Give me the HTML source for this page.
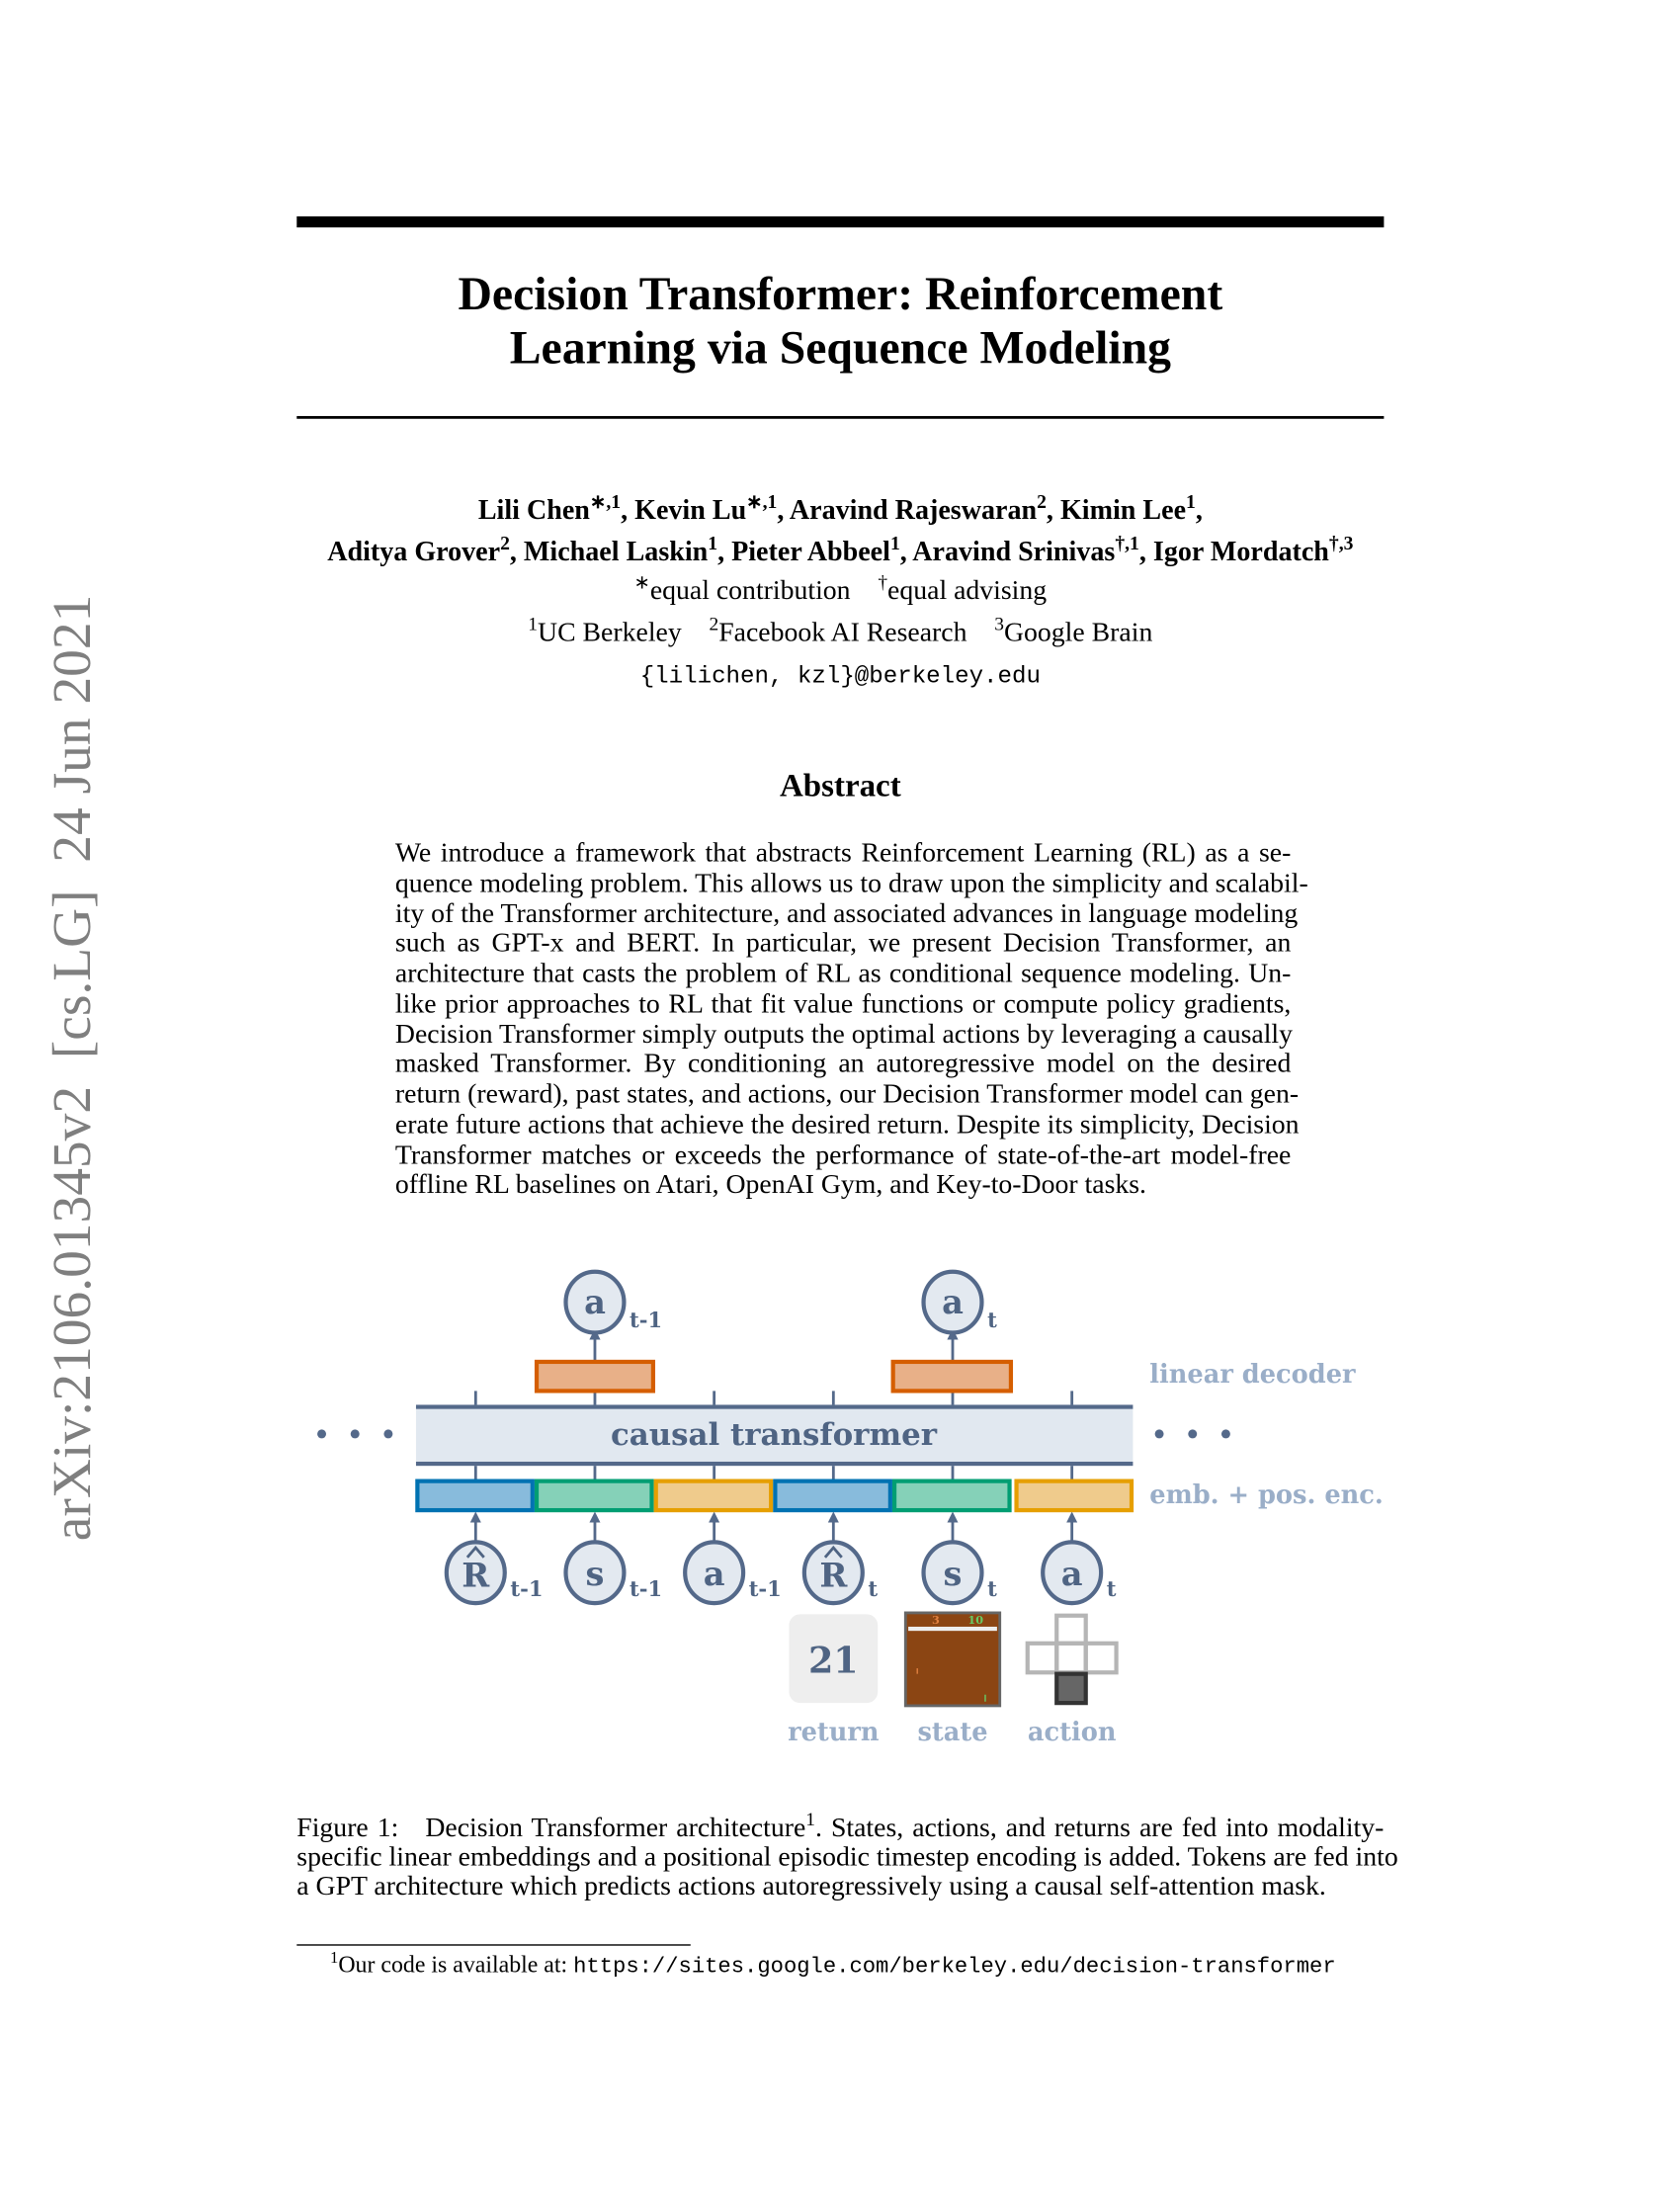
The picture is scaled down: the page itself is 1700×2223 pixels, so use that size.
<!DOCTYPE html>
<html><head><meta charset="utf-8"><style>
html,body{margin:0;padding:0;background:#fff;}
body{width:1700px;height:2200px;overflow:hidden;position:relative;}
#pg{position:absolute;left:0;top:0;width:1224px;height:1584px;transform:scale(1.4032);transform-origin:0 0;font-family:"Liberation Serif",serif;color:#000;}
.ab{position:absolute;}
.j{text-align:justify;text-align-last:justify;white-space:nowrap;}
.c{text-align:center;white-space:nowrap;}
sup{font-size:70%;line-height:0;}
.mono{font-family:"Liberation Mono",monospace;}
</style></head><body><div id="pg">
<div class="ab" style="left:214px;top:156px;width:784px;height:8px;background:#000"></div>
<div class="ab c" style="left:214px;top:193px;width:784px;font-size:34px;font-weight:bold;line-height:39px">Decision Transformer: Reinforcement<br>Learning via Sequence Modeling</div>
<div class="ab" style="left:214px;top:300px;width:784px;height:2px;background:#000"></div>
<div class="ab c" style="left:150px;top:354px;width:912px;font-size:20px;font-weight:bold;line-height:29.5px">Lili Chen<sup>∗,1</sup>, Kevin Lu<sup>∗,1</sup>, Aravind Rajeswaran<sup>2</sup>, Kimin Lee<sup>1</sup>,<br>Aditya Grover<sup>2</sup>, Michael Laskin<sup>1</sup>, Pieter Abbeel<sup>1</sup>, Aravind Srinivas<sup>†,1</sup>, Igor Mordatch<sup>†,3</sup></div>
<div class="ab c" style="left:214px;top:414px;width:784px;font-size:19.8px;line-height:24px"><sup>∗</sup>equal contribution &nbsp;&nbsp; <sup>†</sup>equal advising</div>
<div class="ab c" style="left:214px;top:444px;width:784px;font-size:19.8px;line-height:24px"><sup>1</sup>UC Berkeley &nbsp;&nbsp; <sup>2</sup>Facebook AI Research &nbsp;&nbsp; <sup>3</sup>Google Brain</div>
<div class="ab c mono" style="left:214px;top:478px;width:784px;font-size:17.2px;line-height:22px">{lilichen, kzl}@berkeley.edu</div>
<div class="ab c" style="left:214px;top:554px;width:784px;font-size:23.5px;font-weight:bold">Abstract</div>
<div class="ab" style="left:285px;top:605px;width:646px;font-size:19.8px;line-height:21.75px">
<div class="j">We introduce a framework that abstracts Reinforcement Learning (RL) as a se-</div>
<div class="j">quence modeling problem. This allows us to draw upon the simplicity and scalabil-</div>
<div class="j">ity of the Transformer architecture, and associated advances in language modeling</div>
<div class="j">such as GPT-x and BERT. In particular, we present Decision Transformer, an</div>
<div class="j">architecture that casts the problem of RL as conditional sequence modeling. Un-</div>
<div class="j">like prior approaches to RL that fit value functions or compute policy gradients,</div>
<div class="j">Decision Transformer simply outputs the optimal actions by leveraging a causally</div>
<div class="j">masked Transformer. By conditioning an autoregressive model on the desired</div>
<div class="j">return (reward), past states, and actions, our Decision Transformer model can gen-</div>
<div class="j">erate future actions that achieve the desired return. Despite its simplicity, Decision</div>
<div class="j">Transformer matches or exceeds the performance of state-of-the-art model-free</div>
<div style="white-space:nowrap">offline RL baselines on Atari, OpenAI Gym, and Key-to-Door tasks.</div>
</div>
<svg class="ab" style="left:0;top:0" width="1224" height="1584" viewBox="0 0 1224 1584" font-family="DejaVu Serif, serif" font-weight="bold">
<defs><marker id="ar" markerWidth="8" markerHeight="8" refX="4" refY="4" orient="auto" markerUnits="userSpaceOnUse" viewBox="0 0 8 8"><path d="M0,0 L8,4 L0,8 Z" fill="#54698a"/></marker></defs>
<g fill="#54698a">
<circle cx="232" cy="1034" r="3.2"/><circle cx="256" cy="1034" r="3.2"/><circle cx="280" cy="1034" r="3.2"/>
<circle cx="836" cy="1034" r="3.2"/><circle cx="860" cy="1034" r="3.2"/><circle cx="884" cy="1034" r="3.2"/>
</g>
<rect x="300" y="1015" width="517" height="40" fill="#e1e8f0"/>
<rect x="300" y="1013" width="517" height="3" fill="#54698a"/>
<rect x="300" y="1054" width="517" height="3" fill="#54698a"/>
<text x="558" y="1042" text-anchor="middle" font-size="22" fill="#4f6483">causal transformer</text>
<g stroke="#54698a" stroke-width="2">
<line x1="343" y1="1003" x2="343" y2="1013"/><line x1="515" y1="1003" x2="515" y2="1013"/><line x1="601" y1="1003" x2="601" y2="1013"/><line x1="773" y1="1003" x2="773" y2="1013"/>
<line x1="429" y1="1003" x2="429" y2="1013"/><line x1="687" y1="1003" x2="687" y2="1013"/>
<line x1="343" y1="1057" x2="343" y2="1068"/><line x1="429" y1="1057" x2="429" y2="1068"/><line x1="515" y1="1057" x2="515" y2="1068"/><line x1="601" y1="1057" x2="601" y2="1068"/><line x1="687" y1="1057" x2="687" y2="1068"/><line x1="773" y1="1057" x2="773" y2="1068"/>
<line x1="429" y1="982" x2="429" y2="962" marker-end="url(#ar)"/><line x1="687" y1="982" x2="687" y2="962" marker-end="url(#ar)"/>
<line x1="343" y1="1112" x2="343" y2="1094" marker-end="url(#ar)"/><line x1="429" y1="1112" x2="429" y2="1094" marker-end="url(#ar)"/><line x1="515" y1="1112" x2="515" y2="1094" marker-end="url(#ar)"/><line x1="601" y1="1112" x2="601" y2="1094" marker-end="url(#ar)"/><line x1="687" y1="1112" x2="687" y2="1094" marker-end="url(#ar)"/><line x1="773" y1="1112" x2="773" y2="1094" marker-end="url(#ar)"/>
</g>
<g stroke-width="3">
<rect x="301" y="1068" width="83" height="21" fill="#88bbdc" stroke="#0072b2"/>
<rect x="387" y="1068" width="83" height="21" fill="#85d1b8" stroke="#009e73"/>
<rect x="473" y="1068" width="83" height="21" fill="#efcb8c" stroke="#e69f00"/>
<rect x="559" y="1068" width="83" height="21" fill="#88bbdc" stroke="#0072b2"/>
<rect x="645" y="1068" width="83" height="21" fill="#85d1b8" stroke="#009e73"/>
<rect x="733" y="1068" width="83" height="21" fill="#efcb8c" stroke="#e69f00"/>
<rect x="387" y="982" width="84" height="21" fill="#e8b088" stroke="#d55e00"/>
<rect x="644" y="982" width="85" height="21" fill="#e8b088" stroke="#d55e00"/>
</g>
<g stroke="#54698a" stroke-width="3" fill="#e3e9f0">
<ellipse cx="429" cy="939" rx="21" ry="22"/><ellipse cx="687" cy="939" rx="21" ry="22"/>
<ellipse cx="343" cy="1134" rx="21" ry="22"/><ellipse cx="429" cy="1134" rx="21" ry="22"/><ellipse cx="515" cy="1134" rx="21" ry="22"/><ellipse cx="601" cy="1134" rx="21" ry="22"/><ellipse cx="687" cy="1134" rx="21" ry="22"/><ellipse cx="773" cy="1134" rx="21" ry="22"/>
</g>
<g fill="#4f6483" text-anchor="middle" font-size="24">
<text x="429" y="947">a</text><text x="687" y="947">a</text>
<text x="343" y="1144">R</text><text x="429" y="1143">s</text><text x="515" y="1143">a</text><text x="601" y="1144">R</text><text x="687" y="1143">s</text><text x="773" y="1143">a</text>
</g>
<g fill="none" stroke="#4f6483" stroke-width="2">
<path d="M337,1123 L343,1116 L349,1123"/><path d="M595,1123 L601,1116 L607,1123"/>
</g>
<g fill="#4f6483" font-size="15">
<text x="454" y="957">t-1</text><text x="712" y="957">t</text>
<text x="368" y="1151">t-1</text><text x="454" y="1151">t-1</text><text x="540" y="1151">t-1</text><text x="626" y="1151">t</text><text x="712" y="1151">t</text><text x="798" y="1151">t</text>
</g>
<g fill="#9aaec8" font-size="18.3">
<text x="829" y="997">linear decoder</text>
<text x="829" y="1084">emb. + pos. enc.</text>
<text x="601" y="1255" text-anchor="middle">return</text>
<text x="687" y="1255" text-anchor="middle">state</text>
<text x="773" y="1255" text-anchor="middle">action</text>
</g>
<rect x="569" y="1164" width="64" height="64" rx="8" fill="#eeeeee"/>
<text x="601" y="1206" text-anchor="middle" font-size="26" fill="#4f6483">21</text>
<rect x="653" y="1163" width="68" height="67" fill="#8b4513" stroke="#666" stroke-width="2"/>
<rect x="655" y="1173" width="64" height="3" fill="#eee"/>
<text x="672" y="1171" font-size="8" fill="#e08040">3</text><text x="698" y="1171" font-size="8" fill="#6c6">10</text>
<rect x="661" y="1203" width="1" height="4" fill="#e08040"/><rect x="710" y="1222" width="1" height="5" fill="#6c6"/>
<g fill="none" stroke="#b5b5b5" stroke-width="3">
<rect x="762" y="1165" width="21" height="20"/><rect x="741" y="1185" width="21" height="21"/><rect x="762" y="1185" width="21" height="21"/><rect x="783" y="1185" width="22" height="21"/>
</g>
<rect x="762" y="1207" width="21" height="21" fill="#666" stroke="#333" stroke-width="3"/>
</svg>
<div class="ab" style="left:214px;top:1308px;width:784px;font-size:19.8px;line-height:21px">
<div class="j">Figure 1: &nbsp; Decision Transformer architecture<sup>1</sup>. States, actions, and returns are fed into modality-</div>
<div class="j">specific linear embeddings and a positional episodic timestep encoding is added. Tokens are fed into</div>
<div style="white-space:nowrap">a GPT architecture which predicts actions autoregressively using a causal self-attention mask.</div>
</div>
<div class="ab" style="left:214px;top:1402px;width:284px;height:1px;background:#000"></div>
<div class="ab" style="left:238px;top:1407px;font-size:17px;white-space:nowrap"><sup>1</sup>Our code is available at: <span class="mono" style="font-size:15.8px">https://sites.google.com/berkeley.edu/decision-transformer</span></div>
<div class="ab" style="left:52px;top:770px;width:0;height:0">
<div style="position:absolute;transform:translate(-50%,-50%) rotate(-90deg);white-space:nowrap;font-size:39.5px;color:#7f7f7f;line-height:40px">arXiv:2106.01345v2&nbsp; [cs.LG]&nbsp; 24 Jun 2021</div>
</div>
</div></body></html>
